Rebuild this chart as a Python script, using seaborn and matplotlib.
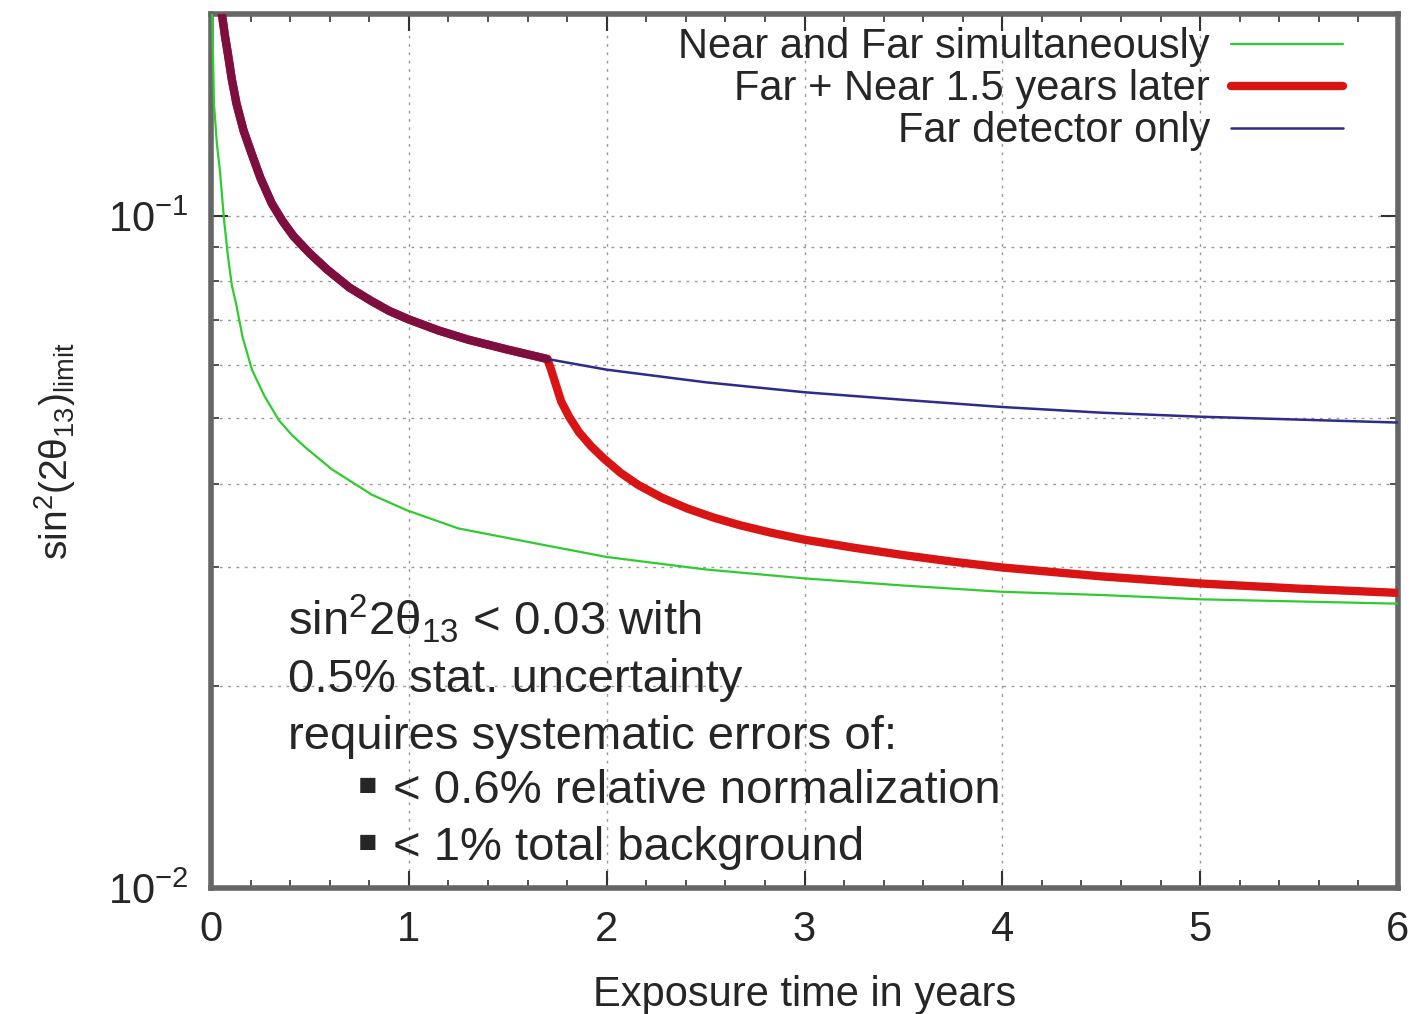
import numpy as np
import pandas as pd
import matplotlib
matplotlib.use('Agg')
import matplotlib.pyplot as plt
import matplotlib.ticker as mticker
import seaborn as sns

# values
near_far_x = [0.006, 0.015, 0.03, 0.045, 0.066, 0.086, 0.106, 0.126, 0.16, 0.207, 0.27,
              0.343, 0.41, 0.48, 0.611, 0.813, 0.99, 1.25, 1.66, 2.0, 2.5, 3.0, 3.5,
              4.0, 4.5, 5.0, 5.5, 6.0]
near_far_y = [0.2, 0.147, 0.128, 0.117, 0.0987, 0.087, 0.0787, 0.0743, 0.066, 0.0591,
              0.054, 0.0497, 0.0472, 0.0452, 0.042, 0.0385, 0.0365, 0.0343, 0.0325,
              0.0311, 0.0298, 0.0289, 0.0282, 0.0276, 0.0273, 0.0269, 0.0267, 0.0265]

far_near_later_x = [0.055, 0.07, 0.086, 0.105, 0.129, 0.165, 0.205, 0.25, 0.307, 0.36,
                    0.418, 0.5, 0.587, 0.7, 0.81, 0.9, 1.0, 1.15, 1.3, 1.5, 1.7, 1.72,
                    1.74, 1.77, 1.81, 1.86, 1.92, 1.985, 2.07, 2.16, 2.28, 2.41, 2.54,
                    2.67, 2.83, 3.0, 3.25, 3.5, 3.75, 4.0, 4.5, 5.0, 5.5, 6.0]
far_near_later_y = [0.2, 0.186, 0.174, 0.16, 0.147, 0.134, 0.124, 0.114, 0.1045, 0.0985,
                    0.0933, 0.088, 0.0833, 0.0783, 0.0748, 0.0723, 0.0702, 0.0676,
                    0.0655, 0.0633, 0.0613, 0.059, 0.0565, 0.053, 0.0503, 0.0477,
                    0.0455, 0.0436, 0.0415, 0.0398, 0.0381, 0.0367, 0.0356, 0.0347,
                    0.0338, 0.033, 0.0321, 0.0313, 0.0306, 0.03, 0.0291, 0.0284,
                    0.0279, 0.0275]

far_only_x = [0.055, 0.07, 0.086, 0.105, 0.129, 0.165, 0.205, 0.25, 0.307, 0.36, 0.418,
              0.5, 0.587, 0.7, 0.81, 0.9, 1.0, 1.15, 1.3, 1.5, 1.7, 2.0, 2.5, 3.0, 3.5,
              4.0, 4.5, 5.0, 5.5, 6.0]
far_only_y = [0.2, 0.186, 0.174, 0.16, 0.147, 0.134, 0.124, 0.114, 0.1045, 0.0985,
              0.0933, 0.088, 0.0833, 0.0783, 0.0748, 0.0723, 0.0702, 0.0676, 0.0655,
              0.0633, 0.0613, 0.0591, 0.0566, 0.0547, 0.0533, 0.052, 0.051, 0.0503,
              0.0498, 0.0493]

near_start = 1.7  # where the staged curve leaves the far-only curve

labels = ['Near and Far simultaneously', 'Far + Near 1.5 years later', 'Far detector only']
x_ticks = [0, 1, 2, 3, 4, 5, 6]

sns.set_theme(style='ticks')
plt.rcParams['font.family'] = ['Liberation Sans', 'DejaVu Sans']
plt.rcParams['mathtext.fontset'] = 'custom'
plt.rcParams['mathtext.rm'] = 'Liberation Sans'
plt.rcParams['mathtext.it'] = 'Liberation Sans:italic'
plt.rcParams['mathtext.bf'] = 'Liberation Sans:bold'

W, H = 1416, 1014
fig = plt.figure(figsize=(W / 100, H / 100), dpi=100)
ax = fig.add_axes([211 / W, 1 - 888 / H, (1398 - 211) / W, (888 - 14) / H])

sns.lineplot(x=near_far_x, y=near_far_y, ax=ax, color='#2fcc2f', lw=1.6,
             label=labels[0], zorder=3)
sns.lineplot(x=far_near_later_x, y=far_near_later_y, ax=ax, color='#d81414', lw=6,
             label=labels[1], zorder=4)
sns.lineplot(x=far_only_x, y=far_only_y, ax=ax, color='#2c2c8c', lw=1.8,
             label=labels[2], zorder=5)
# both curves lie on top of each other before the near detector starts
far_df = pd.DataFrame({'x': far_only_x, 'y': far_only_y})
early = far_df[far_df['x'] <= near_start]
sns.lineplot(data=early, x='x', y='y', ax=ax, color='#7c0f40', lw=6,
             zorder=6, legend=False)

ax.set_yscale('log')
ax.set_xlim(0, 6)
ax.set_ylim(0.01, 0.2)
ax.set_xticks(x_ticks)
ax.xaxis.set_minor_locator(mticker.MultipleLocator(0.2))
ax.yaxis.set_major_locator(mticker.LogLocator(base=10))
ax.yaxis.set_minor_locator(mticker.LogLocator(base=10, subs=np.arange(2, 10)))
ax.yaxis.set_minor_formatter(mticker.NullFormatter())

ax.grid(which='major', axis='x', color='#999999', ls=(0, (2, 4)), lw=1)
ax.grid(which='both', axis='y', color='#999999', ls=(0, (2, 4)), lw=1)

for s in ax.spines.values():
    s.set_color('#666666')
    s.set_linewidth(4)
ax.tick_params(which='both', direction='in', top=True, right=True, color='#333333')
ax.tick_params(which='major', length=12, width=1.5, labelsize=30, pad=16)
ax.tick_params(which='minor', length=6, width=1.2)

ax.set_xlabel('Exposure time in years', fontsize=30, labelpad=18)
ax.set_ylabel('sin$^2$(2θ$_{13}$)$_{\\mathrm{limit}}$', fontsize=28, labelpad=22)

leg = ax.legend(loc='upper right', bbox_to_anchor=(0.954, 0.985), frameon=False,
                fontsize=30, markerfirst=False, handlelength=2.7, handletextpad=0.5,
                labelspacing=0.05, borderpad=0, borderaxespad=0)

# annotation block
fs = 34
fig.text(288 / W, 1 - 635 / H, 'sin$^2$2θ$_{13}$ < 0.03 with', fontsize=fs, va='baseline')
fig.text(288 / W, 1 - 692 / H, '0.5% stat. uncertainty', fontsize=fs, va='baseline')
fig.text(288 / W, 1 - 749 / H, 'requires systematic errors of:', fontsize=fs, va='baseline')
for yb, txt in [(803, '< 0.6% relative normalization'), (860, '< 1% total background')]:
    fig.text(357 / W, 1 - (yb + 1) / H, '\u25aa', fontsize=44, va='baseline')
    fig.text(393 / W, 1 - yb / H, txt, fontsize=fs, va='baseline')

fig.savefig('out.png', dpi=100, facecolor='white')
